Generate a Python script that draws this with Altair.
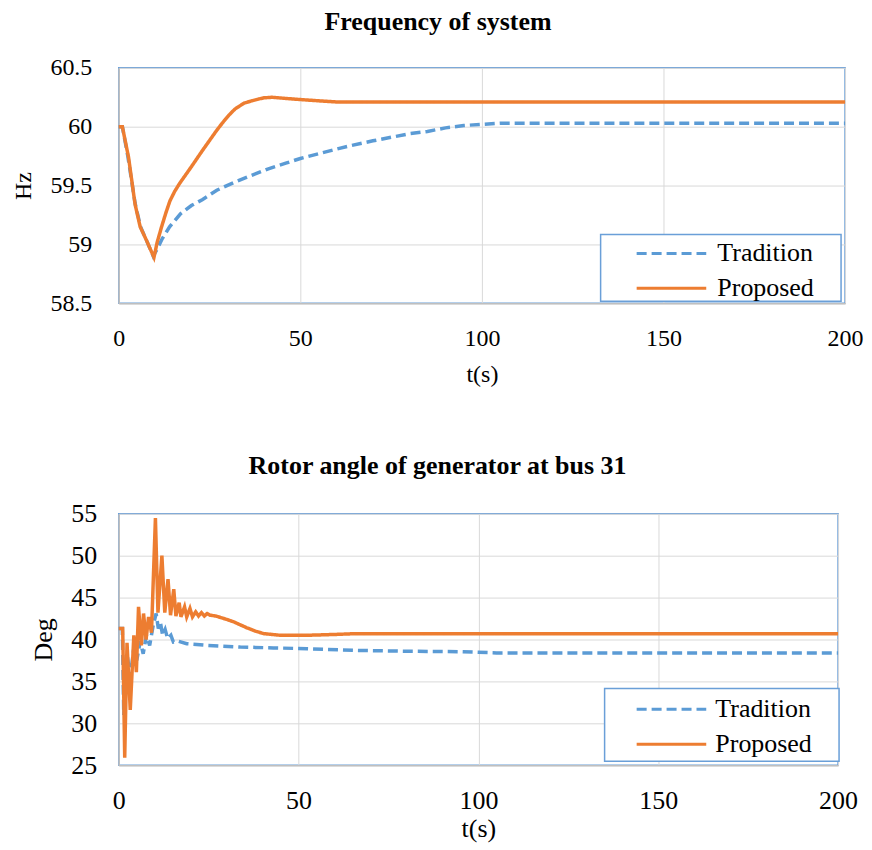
import altair as alt
import pandas as pd

SERIES = ["Tradition", "Proposed"]
COLORS = ["#5B9BD5", "#ED7D31"]
DASHES = [[10, 5], [1, 0]]
X_TICKS = [0, 50, 100, 150, 200]
FREQ_TICKS = [58.5, 59, 59.5, 60, 60.5]
ANG_TICKS = [25, 30, 35, 40, 45, 50, 55]

# Frequency of system (Hz)
freq_trad_t = [0, 1, 2.5, 4.5, 6, 7.7, 9.5, 10.4, 12, 14, 17, 20, 23, 27, 32, 36, 41, 46, 50,
               55, 60, 64, 70, 75, 80, 85, 90, 95, 100, 105, 110, 150, 200]
freq_trad_v = [60.0, 60.0, 59.75, 59.35, 59.15, 59.03, 58.9, 58.95, 59.05, 59.15, 59.26, 59.33,
               59.38, 59.46, 59.53, 59.58, 59.64, 59.69, 59.73, 59.77, 59.81, 59.84, 59.88, 59.91,
               59.94, 59.96, 59.99, 60.01, 60.02, 60.03, 60.03, 60.03, 60.03]
freq_prop_t = [0, 1, 2.7, 4.5, 5.9, 7.7, 9.7, 10.6, 11.8, 13.0, 14.1, 15.4, 16.8, 18.4, 20,
               23.1, 27, 28.5, 30.4, 32, 34.5, 36.7, 38.5, 40, 42.2, 46, 50.3, 55, 60, 64, 80, 200]
freq_prop_v = [60.0, 60.0, 59.74, 59.34, 59.15, 59.03, 58.89, 59.02, 59.15, 59.27, 59.37,
               59.45, 59.52, 59.59, 59.66, 59.80, 59.97, 60.03, 60.10, 60.15, 60.20, 60.22,
               60.235, 60.245, 60.25, 60.24, 60.23, 60.22, 60.21, 60.21, 60.21, 60.21]

# Rotor angle of generator at bus 31 (Deg)
ang_trad_t = [0, 1.0, 1.4, 2.4, 3.2, 4.2, 5.0, 6.0, 6.8, 7.7, 8.6, 9.5, 10.4, 11.0, 11.6, 12.2,
              12.9, 13.6, 14.5, 15.2, 16.5, 18.9, 24.5, 33.8, 43, 52.3, 66, 80, 95, 105, 120, 200]
ang_trad_v = [41.3, 41.3, 31.0, 38.0, 35.5, 39.0, 37.5, 39.8, 38.3, 40.5, 39.3, 41.5, 43.1, 41.3,
              42.0, 40.5, 41.2, 40.1, 40.5, 39.7, 39.8, 39.5, 39.3, 39.1, 39.0, 38.9, 38.7, 38.6,
              38.55, 38.4, 38.4, 38.4]
ang_prop_t = [0, 1.1, 1.66, 2.3, 3.2, 4.2, 4.9, 5.5, 6.3, 6.9, 7.6, 8.3, 9.1, 10.2, 10.9, 12.0,
              12.8, 13.7, 14.4, 15.3, 15.9, 16.8, 17.3, 18.3, 18.9, 19.8, 20.5, 21.4, 22.2, 23.0,
              23.8, 24.6, 25.4, 27, 30, 32, 35.6, 38, 40.3, 45, 52, 60, 66, 75, 200]
ang_prop_v = [41.3, 41.3, 25.9, 39.6, 31.6, 40.5, 36.1, 43.9, 39.3, 43.1, 40.0, 42.7, 40.8, 54.5,
              43.2, 50.0, 43.2, 47.2, 42.9, 46.0, 42.8, 44.4, 42.7, 43.9, 42.7, 43.7, 42.7, 43.3,
              42.8, 43.2, 42.8, 43.1, 42.9, 42.8, 42.4, 42.1, 41.4, 41.0, 40.7, 40.5, 40.5, 40.6,
              40.7, 40.7, 40.7]

SERIF = "Liberation Serif"
BORDER = "#6A9FD8"
GRID = "#D9D9D9"
DOMAIN = "#BFBFBF"


def long_frame(t1, v1, t2, v2):
    rows = [{"t": t, "v": v, "s": SERIES[0]} for t, v in zip(t1, v1)]
    rows += [{"t": t, "v": v, "s": SERIES[1]} for t, v in zip(t2, v2)]
    return pd.DataFrame(rows)


def panel(df, ticks, width, height, title, title_dx, title_offset, ytitle, ytitle_x,
          fs, ylab_pad, xlab_pad, xtitle_pad, lx, ly, sym_off, lab_off, box):
    legend = alt.Legend(
        title=None, orient="none", legendX=lx, legendY=ly, direction="vertical",
        padding=2, labelFont=SERIF, labelFontSize=26, labelColor="black",
        symbolType="M-2.25,0H2.25", symbolSize=961, symbolStrokeWidth=3,
        symbolOffset=sym_off, labelOffset=lab_off, rowPadding=5,
    )
    lines = alt.Chart(df).mark_line(strokeWidth=3.5).encode(
        x=alt.X("t:Q", scale=alt.Scale(domain=[0, 200], nice=False),
                axis=alt.Axis(values=X_TICKS, title="t(s)", grid=True, gridColor=GRID,
                              ticks=False, domainColor=DOMAIN, domainWidth=1.5,
                              labelFont=SERIF, labelFontSize=fs, labelColor="black",
                              labelPadding=xlab_pad, labelFlush=False, labelOverlap=False,
                              titleFont=SERIF, titleFontSize=fs, titleFontWeight="normal",
                              titleColor="black", titlePadding=xtitle_pad)),
        y=alt.Y("v:Q", scale=alt.Scale(domain=[ticks[0], ticks[-1]], nice=False, zero=False),
                axis=alt.Axis(values=ticks, format="~g", title=ytitle, grid=True, gridColor=GRID,
                              ticks=False, domainColor=DOMAIN, domainWidth=1.5,
                              labelFont=SERIF, labelFontSize=fs, labelColor="black",
                              labelPadding=ylab_pad, labelFlush=False, labelOverlap=False,
                              titleFont=SERIF, titleFontSize=fs, titleFontWeight="normal",
                              titleColor="black", titleX=ytitle_x, titleY=height / 2,
                              titleAlign="center", titleBaseline="middle", titleAngle=-90)),
        color=alt.Color("s:N", scale=alt.Scale(domain=SERIES, range=COLORS), legend=legend),
        strokeDash=alt.StrokeDash("s:N", scale=alt.Scale(domain=SERIES, range=DASHES),
                                  legend=legend),
    )
    # legend frame (decoration, in pixels of the plot area)
    frame = alt.Chart(pd.DataFrame({"k": [0]})).mark_rect(
        fill="white", stroke=BORDER, strokeWidth=1.5
    ).encode(x=alt.value(box[0]), x2=alt.value(box[1]), y=alt.value(box[2]), y2=alt.value(box[3]))
    return alt.layer(lines, frame).properties(
        width=width, height=height,
        title=alt.TitleParams(title, font=SERIF, fontSize=26, fontWeight="bold", color="black",
                              anchor="middle", frame="group", dx=title_dx,
                              offset=title_offset, baseline="alphabetic"),
    )


top = panel(long_frame(freq_trad_t, freq_trad_v, freq_prop_t, freq_prop_v), FREQ_TICKS,
            728, 236, "Frequency of system", -44, 0, "Hz", -95, 24, 27, 23, 12, 483, 167,
            52, 29, (483, 724, 167, 234))
bottom = panel(long_frame(ang_trad_t, ang_trad_v, ang_prop_t, ang_prop_v), ANG_TICKS,
               721, 252, "Rotor angle of generator at bus 31", -41, 1, "Deg", -75, 26, 22, 22,
               2, 487, 177, 48, 27, (487, 722, 175, 248))

chart = alt.vconcat(top, bottom, spacing=65).resolve_scale(
    color="independent", strokeDash="independent"
).resolve_legend(
    color="independent", strokeDash="independent"
).configure(
    padding={"left": 3, "top": -1, "right": 0, "bottom": 0}
).configure_axis(labelFont=SERIF, titleFont=SERIF).configure_view(stroke=BORDER, strokeWidth=1.5)

chart.save("out.html", embed_options={"renderer": "svg", "actions": False})
